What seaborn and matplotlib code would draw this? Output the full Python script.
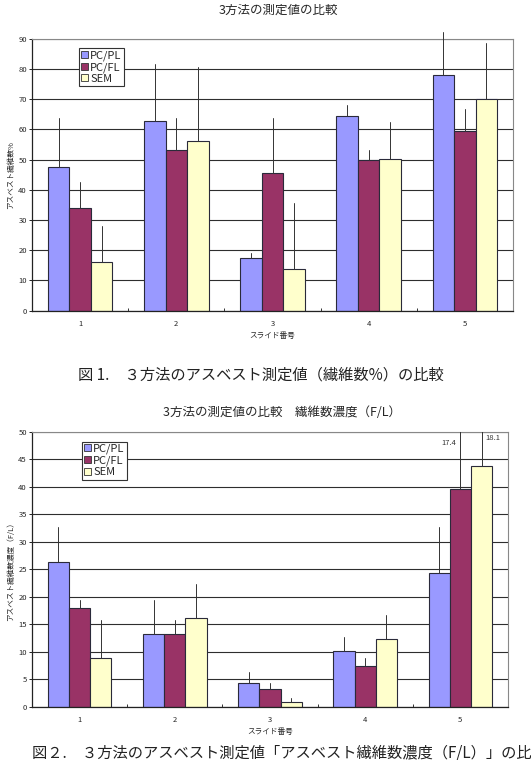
import matplotlib
matplotlib.use("Agg")
import matplotlib.pyplot as plt
import seaborn as sns
import pandas as pd
import numpy as np
from matplotlib.patches import Patch
from matplotlib.ticker import MultipleLocator, FixedLocator

sns.set_theme(style="white")
plt.rcParams['font.family'] = ['Noto Sans CJK JP', 'DejaVu Sans']

slides = ["1", "2", "3", "4", "5"]
methods = ["PC/PL", "PC/FL", "SEM"]
colors = ["#9999FF", "#993366", "#FFFFCC"]

# Chart 1: fibre count %
pcpl_pct = [47.6, 62.7, 17.3, 64.3, 78.0]
pcfl_pct = [33.9, 53.1, 45.5, 49.9, 59.4]
sem_pct = [16.0, 56.3, 13.8, 50.2, 70.0]
pcpl_pct_err = [16.1, 18.9, 1.7, 3.8, 14.2]
pcfl_pct_err = [8.8, 10.8, 18.2, 3.3, 7.2]
sem_pct_err = [12.1, 24.5, 22.0, 12.4, 18.5]

# Chart 2: fibre concentration (F/L)
pcpl_conc = [26.4, 13.2, 4.3, 10.2, 24.4]
pcfl_conc = [18.0, 13.3, 3.3, 7.4, 39.6]
sem_conc = [8.8, 16.1, 0.9, 12.3, 43.8]
pcpl_conc_err = [6.3, 6.2, 2.1, 2.4, 8.3]
pcfl_conc_err = [1.4, 2.5, 1.0, 1.4, 17.4]
sem_conc_err = [7.0, 6.2, 0.6, 4.4, 18.1]

title1 = "3方法の測定値の比較"
title2 = "3方法の測定値の比較\u3000繊維数濃度（F/L）"
ylabel1 = "アスベスト繊維数%"
ylabel2 = "アスベスト繊維数濃度（F/L）"
xlabel = "スライド番号"
caption1 = "図 1.\u3000３方法のアスベスト測定値（繊維数%）の比較"
caption2 = "図２.\u3000３方法のアスベスト測定値「アスベスト繊維数濃度（F/L）」の比較"


def make_df(vals, errs):
    rows = []
    for m, v, e in zip(methods, vals, errs):
        for s, vv, ee in zip(slides, v, e):
            rows.append({"slide": s, "method": m, "value": vv, "err": ee})
    return pd.DataFrame(rows)


fig = plt.figure(figsize=(5.31, 7.6), dpi=100)
W, H = 531, 760


def ax_rect(l, r, t, b):
    return [l / W, 1 - b / H, (r - l) / W, (b - t) / H]


ax1 = fig.add_axes(ax_rect(32, 513, 38.7, 310.7))
ax2 = fig.add_axes(ax_rect(32, 508, 431.7, 706.7))


def draw(ax, df, ymax, ystep, ylabel, legend_anchor, errlabels=False):
    ax.set_axisbelow(True)
    sns.barplot(data=df, x="slide", y="value", hue="method", hue_order=methods,
                palette=colors, width=0.67, edgecolor="#2a2a3a", linewidth=0.8,
                errorbar=None, legend=False, ax=ax, saturation=1)
    for cont, m in zip(ax.containers, methods):
        sub = df[df.method == m]
        for bar, e in zip(cont, sub["err"]):
            xc = bar.get_x() + bar.get_width() / 2
            top = bar.get_height()
            ax.plot([xc, xc], [top, top + e], color="#333333", lw=0.7,
                    clip_on=(ymax == 50), zorder=3)
    ax.set_ylim(0, ymax)
    ax.set_xlim(-0.5, len(slides) - 0.5)
    ax.yaxis.set_major_locator(MultipleLocator(ystep))
    ax.grid(axis="y", color="#2e2e2e", lw=0.8)
    ax.grid(axis="x", visible=False)
    for side in ["top", "right"]:
        ax.spines[side].set_color("#888888")
        ax.spines[side].set_linewidth(0.8)
    for side in ["left", "bottom"]:
        ax.spines[side].set_color("#222222")
        ax.spines[side].set_linewidth(0.9)
    ax.tick_params(axis="y", which="major", direction="out", length=2.2, width=0.7,
                   color="#222222", labelsize=5.5, pad=1.5, left=True)
    ax.tick_params(axis="x", which="major", length=0, labelsize=5.5, pad=7)
    ax.xaxis.set_minor_locator(FixedLocator([0.5, 1.5, 2.5, 3.5]))
    ax.tick_params(axis="x", which="minor", direction="in", length=2.5, width=0.7,
                   color="#333333", bottom=True)
    ax.set_xlabel(xlabel, fontsize=5.5, labelpad=2.5)
    ax.set_ylabel(ylabel, fontsize=5.5, labelpad=2)
    handles = [Patch(facecolor=c, edgecolor="#333333", lw=0.6, label=m)
               for c, m in zip(colors, methods)]
    leg = ax.legend(handles=handles, loc="upper left", bbox_to_anchor=legend_anchor,
                    fontsize=8, frameon=True, fancybox=False, framealpha=1,
                    edgecolor="#333333", borderpad=0.2, labelspacing=0.12,
                    handlelength=0.6, handleheight=0.6, handletextpad=0.2,
                    borderaxespad=0)
    leg.get_frame().set_linewidth(0.8)
    if errlabels:
        cont_fl = ax.containers[1]
        cont_sem = ax.containers[2]
        b = cont_fl[4]
        ax.text(b.get_x() + b.get_width() / 2 - 0.04, 48.0, f"{pcfl_conc_err[4]}",
                ha="right", va="center", fontsize=5.5, color="#333333")
        b = cont_sem[4]
        ax.text(b.get_x() + b.get_width() / 2 + 0.04, 48.8, f"{sem_conc_err[4]}",
                ha="left", va="center", fontsize=5.5, color="#333333")


df1 = make_df([pcpl_pct, pcfl_pct, sem_pct], [pcpl_pct_err, pcfl_pct_err, sem_pct_err])
df2 = make_df([pcpl_conc, pcfl_conc, sem_conc], [pcpl_conc_err, pcfl_conc_err, sem_conc_err])

draw(ax1, df1, 90, 10, ylabel1, (0.098, 0.966))
draw(ax2, df2, 50, 5, ylabel2, (0.105, 0.964), errlabels=True)

fig.text(278 / W, 1 - 10 / H, title1, ha="center", va="center", fontsize=9)
fig.text(282 / W, 1 - 413 / H, title2, ha="center", va="center", fontsize=9)
fig.text(78 / W, 1 - 375 / H, caption1, ha="left", va="center", fontsize=11, color="#222222")
fig.text(32 / W, 1 - 745 / H, caption2, ha="left", va="top", fontsize=11, color="#222222")

fig.savefig("out.png", dpi=100)
